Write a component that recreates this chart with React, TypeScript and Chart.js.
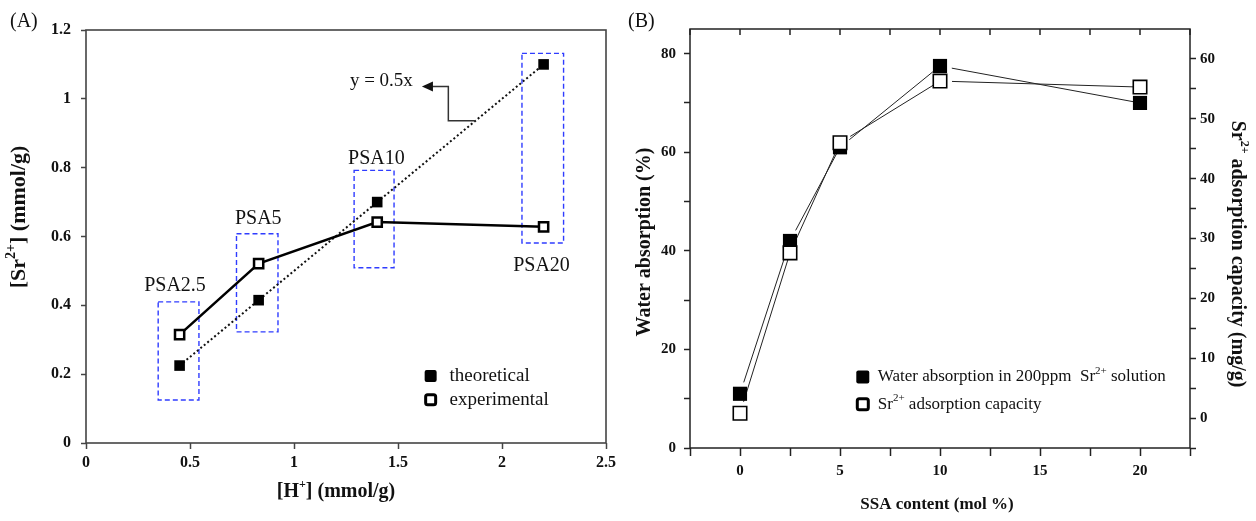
import React, { useEffect, useRef } from 'react';
import { Chart, registerables } from 'chart.js';
Chart.register(...registerables);

const FONT = '"Liberation Serif", "Times New Roman", serif';

// ---------- Panel A data ----------
const H_PLUS = [0.45, 0.83, 1.4, 2.2];
const SR_THEORETICAL = [0.225, 0.415, 0.7, 1.1];
const SR_EXPERIMENTAL = [0.315, 0.521, 0.642, 0.628];
const A_X_TICKS = [0, 0.5, 1, 1.5, 2, 2.5];
const A_Y_TICKS = [0, 0.2, 0.4, 0.6, 0.8, 1, 1.2];
const PSA_LABELS = ['PSA2.5', 'PSA5', 'PSA10', 'PSA20'];
const PSA_BOX_X0 = [0.347, 0.7235, 1.289, 2.096];
const PSA_BOX_X1 = [0.543, 0.923, 1.481, 2.296];
const PSA_BOX_Y0 = [0.125, 0.323, 0.509, 0.581];
const PSA_BOX_Y1 = [0.41, 0.608, 0.792, 1.132];
const PSA_LABEL_X = [0.428, 0.828, 1.396, 2.19];
const PSA_LABEL_Y = [0.456, 0.652, 0.825, 0.516];
const FIT_LABEL = 'y = 0.5x';
const FIT_LABEL_POS = [1.42, 1.052];
const ARROW_X = [1.875, 1.742, 1.742, 1.615];
const ARROW_Y = [0.9365, 0.9365, 1.036, 1.036];
const A_LEGEND_LABELS = ['theoretical', 'experimental'];
const A_LEGEND_X = 1.657;
const A_LEGEND_TEXT_X = 1.748;
const A_LEGEND_Y = [0.195, 0.1255];

// ---------- Panel B data ----------
const SSA_CONTENT = [0, 2.5, 5, 10, 20];
const WATER_ABSORPTION = [11, 42, 61, 77.5, 70];
const SR_ADSORPTION = [0.8, 27.6, 46, 56.3, 55.3];
const B_X_TICKS = [-2.5, 0, 2.5, 5, 7.5, 10, 12.5, 15, 17.5, 20, 22.5];
const B_X_LABELS = [0, 5, 10, 15, 20];
const B_Y_TICKS = [0, 10, 20, 30, 40, 50, 60, 70, 80];
const B_Y_LABELS = [0, 20, 40, 60, 80];
const B_Y1_TICKS = [-5, 0, 5, 10, 15, 20, 25, 30, 35, 40, 45, 50, 55, 60];
const B_Y1_LABELS = [0, 10, 20, 30, 40, 50, 60];
const B_LEGEND_X = 6.14;
const B_LEGEND_TEXT_X = 6.89;
const B_LEGEND_Y = [14.4, 8.9];

type Seg = { t: string; sup?: boolean };
const A_X_TITLE: Seg[] = [{ t: '[H' }, { t: '+', sup: true }, { t: '] (mmol/g)' }];
const A_Y_TITLE: Seg[] = [{ t: '[Sr' }, { t: '2+', sup: true }, { t: '] (mmol/g)' }];
const B_X_TITLE: Seg[] = [{ t: 'SSA content (mol %)' }];
const B_Y_TITLE: Seg[] = [{ t: 'Water absorption (%)' }];
const B_Y1_TITLE: Seg[] = [{ t: 'Sr' }, { t: '2+', sup: true }, { t: ' adsorption capacity (mg/g)' }];
const B_LEGEND: Seg[][] = [
  [{ t: 'Water absorption in 200ppm  Sr' }, { t: '2+', sup: true }, { t: ' solution' }],
  [{ t: 'Sr' }, { t: '2+', sup: true }, { t: ' adsorption capacity' }],
];

function drawRich(
  ctx: CanvasRenderingContext2D,
  segs: Seg[],
  x: number,
  y: number,
  size: number,
  weight: string,
  align: 'left' | 'center',
  rot = 0
) {
  ctx.save();
  ctx.translate(x, y);
  ctx.rotate(rot);
  const fontFor = (s: Seg) => `${weight} ${s.sup ? Math.round(size * 0.62) : size}px ${FONT}`;
  let total = 0;
  const widths = segs.map((s) => {
    ctx.font = fontFor(s);
    const w = ctx.measureText(s.t).width;
    total += w;
    return w;
  });
  let cx = align === 'center' ? -total / 2 : 0;
  ctx.textBaseline = 'middle';
  ctx.textAlign = 'left';
  ctx.fillStyle = '#111';
  segs.forEach((s, i) => {
    ctx.font = fontFor(s);
    ctx.fillText(s.t, cx, s.sup ? -size * 0.36 : 0);
    cx += widths[i];
  });
  ctx.restore();
}

function roundSquare(ctx: CanvasRenderingContext2D, cx: number, cy: number, s: number, r: number) {
  const x = cx - s / 2, y = cy - s / 2;
  ctx.beginPath();
  ctx.moveTo(x + r, y);
  ctx.lineTo(x + s - r, y);
  ctx.quadraticCurveTo(x + s, y, x + s, y + r);
  ctx.lineTo(x + s, y + s - r);
  ctx.quadraticCurveTo(x + s, y + s, x + s - r, y + s);
  ctx.lineTo(x + r, y + s);
  ctx.quadraticCurveTo(x, y + s, x, y + s - r);
  ctx.lineTo(x, y + r);
  ctx.quadraticCurveTo(x, y, x + r, y);
  ctx.closePath();
}

const tickFont = (size: number) => ({ family: FONT, size, weight: 'bold' as const });

const panelAPlugin = {
  id: 'panelA',
  beforeDatasetsDraw(chart: any) {
    const { ctx, scales } = chart;
    const xs = scales.x, ys = scales.y;
    ctx.save();
    ctx.strokeStyle = '#2f3cff';
    ctx.lineWidth = 1.4;
    ctx.setLineDash([5, 3]);
    PSA_LABELS.forEach((_, i) => {
      const x0 = xs.getPixelForValue(PSA_BOX_X0[i]);
      const x1 = xs.getPixelForValue(PSA_BOX_X1[i]);
      const y0 = ys.getPixelForValue(PSA_BOX_Y0[i]);
      const y1 = ys.getPixelForValue(PSA_BOX_Y1[i]);
      ctx.strokeRect(x0, y1, x1 - x0, y0 - y1);
    });
    ctx.restore();
  },
  afterDraw(chart: any) {
    const { ctx, scales, chartArea: a } = chart;
    const xs = scales.x, ys = scales.y;
    ctx.save();
    ctx.strokeStyle = '#444';
    ctx.lineWidth = 1.6;
    ctx.strokeRect(a.left, a.top, a.right - a.left, a.bottom - a.top);
    ctx.fillStyle = '#111';
    ctx.font = `20px ${FONT}`;
    ctx.textAlign = 'center';
    ctx.textBaseline = 'middle';
    PSA_LABELS.forEach((t, i) => {
      ctx.fillText(t, xs.getPixelForValue(PSA_LABEL_X[i]), ys.getPixelForValue(PSA_LABEL_Y[i]));
    });
    ctx.font = `19px ${FONT}`;
    ctx.fillText(FIT_LABEL, xs.getPixelForValue(FIT_LABEL_POS[0]), ys.getPixelForValue(FIT_LABEL_POS[1]));
    ctx.strokeStyle = '#333';
    ctx.lineWidth = 1.5;
    ctx.beginPath();
    ARROW_X.forEach((xv, i) => {
      const px = xs.getPixelForValue(xv) + (i === ARROW_X.length - 1 ? 9 : 0);
      const py = ys.getPixelForValue(ARROW_Y[i]);
      if (i === 0) ctx.moveTo(px, py);
      else ctx.lineTo(px, py);
    });
    ctx.stroke();
    const tipX = xs.getPixelForValue(ARROW_X[ARROW_X.length - 1]);
    const tipY = ys.getPixelForValue(ARROW_Y[ARROW_Y.length - 1]);
    ctx.fillStyle = '#111';
    ctx.beginPath();
    ctx.moveTo(tipX, tipY);
    ctx.lineTo(tipX + 11, tipY - 5);
    ctx.lineTo(tipX + 11, tipY + 5);
    ctx.closePath();
    ctx.fill();
    A_LEGEND_LABELS.forEach((t, i) => {
      const px = xs.getPixelForValue(A_LEGEND_X);
      const py = ys.getPixelForValue(A_LEGEND_Y[i]);
      if (i === 0) {
        roundSquare(ctx, px, py, 12, 2);
        ctx.fillStyle = '#000';
        ctx.fill();
      } else {
        roundSquare(ctx, px, py, 10, 2);
        ctx.fillStyle = '#fff';
        ctx.fill();
        ctx.strokeStyle = '#000';
        ctx.lineWidth = 3;
        ctx.stroke();
      }
      ctx.fillStyle = '#111';
      ctx.font = `19px ${FONT}`;
      ctx.textAlign = 'left';
      ctx.textBaseline = 'middle';
      ctx.fillText(t, xs.getPixelForValue(A_LEGEND_TEXT_X), py);
    });
    ctx.font = `20px ${FONT}`;
    ctx.textAlign = 'left';
    ctx.fillText('(A)', 10, 22);
    ctx.restore();
    drawRich(ctx, A_X_TITLE, 336, 492, 20, 'bold', 'center');
    drawRich(ctx, A_Y_TITLE, 19, 217, 22, 'bold', 'center', -Math.PI / 2);
  },
};

const panelBPlugin = {
  id: 'panelB',
  beforeDatasetsDraw(chart: any) {
    const { ctx } = chart;
    ctx.save();
    ctx.strokeStyle = '#222';
    ctx.lineWidth = 1;
    [0, 1].forEach((di) => {
      const pts = chart.getDatasetMeta(di).data;
      for (let i = 0; i < pts.length - 1; i++) {
        const p = pts[i], q = pts[i + 1];
        const dx = q.x - p.x, dy = q.y - p.y;
        const len = Math.hypot(dx, dy);
        const g = 12;
        ctx.beginPath();
        ctx.moveTo(p.x + (dx / len) * g, p.y + (dy / len) * g);
        ctx.lineTo(q.x, q.y);
        ctx.stroke();
      }
    });
    ctx.restore();
  },
  afterDraw(chart: any) {
    const { ctx, scales, chartArea: a } = chart;
    const xs = scales.x, ys = scales.y;
    ctx.save();
    ctx.strokeStyle = '#222';
    ctx.lineWidth = 1.5;
    ctx.strokeRect(a.left, a.top, a.right - a.left, a.bottom - a.top);
    B_X_TICKS.forEach((v) => {
      const px = xs.getPixelForValue(v);
      ctx.beginPath();
      ctx.moveTo(px, a.top);
      ctx.lineTo(px, a.top + 6);
      ctx.stroke();
    });
    B_LEGEND.forEach((segs, i) => {
      const px = xs.getPixelForValue(B_LEGEND_X);
      const py = ys.getPixelForValue(B_LEGEND_Y[i]);
      if (i === 0) {
        roundSquare(ctx, px, py, 13, 2);
        ctx.fillStyle = '#000';
        ctx.fill();
      } else {
        roundSquare(ctx, px, py, 11, 2);
        ctx.fillStyle = '#fff';
        ctx.fill();
        ctx.strokeStyle = '#000';
        ctx.lineWidth = 3;
        ctx.stroke();
      }
      drawRich(ctx, segs, xs.getPixelForValue(B_LEGEND_TEXT_X), py, 17, 'normal', 'left');
    });
    ctx.fillStyle = '#111';
    ctx.font = `20px ${FONT}`;
    ctx.textAlign = 'left';
    ctx.textBaseline = 'middle';
    ctx.fillText('(B)', 8, 22);
    ctx.restore();
    drawRich(ctx, B_X_TITLE, 317, 505, 17, 'bold', 'center');
    drawRich(ctx, B_Y_TITLE, 25, 242, 20, 'bold', 'center', -Math.PI / 2);
    drawRich(ctx, B_Y1_TITLE, 617, 254, 20, 'bold', 'center', Math.PI / 2);
  },
};

export default function App() {
  const refA = useRef<HTMLCanvasElement>(null);
  const refB = useRef<HTMLCanvasElement>(null);

  useEffect(() => {
    const chartA = new Chart(refA.current as HTMLCanvasElement, {
      type: 'scatter',
      data: {
        datasets: [
          {
            label: A_LEGEND_LABELS[0],
            data: H_PLUS.map((x, i) => ({ x, y: SR_THEORETICAL[i] })),
            showLine: true,
            borderColor: '#111',
            borderWidth: 2,
            borderDash: [2, 2.5],
            pointStyle: 'rect',
            pointRadius: 7.5,
            pointBackgroundColor: '#000',
            pointBorderWidth: 0,
            order: 2,
          },
          {
            label: A_LEGEND_LABELS[1],
            data: H_PLUS.map((x, i) => ({ x, y: SR_EXPERIMENTAL[i] })),
            showLine: true,
            borderColor: '#000',
            borderWidth: 2.5,
            pointStyle: 'rect',
            pointRadius: 6.5,
            pointBackgroundColor: '#fff',
            pointBorderColor: '#000',
            pointBorderWidth: 2.5,
            order: 1,
          },
        ],
      },
      options: {
        responsive: false,
        animation: false,
        devicePixelRatio: 1,
        layout: { padding: { top: 30, right: 14, left: 0, bottom: 0 } },
        plugins: { legend: { display: false }, tooltip: { enabled: false } },
        scales: {
          x: {
            type: 'linear',
            min: 0,
            max: 2.5,
            afterBuildTicks: (s: any) => {
              s.ticks = A_X_TICKS.map((v) => ({ value: v }));
            },
            ticks: {
              callback: (v: any) => String(v),
              font: tickFont(16),
              color: '#111',
              padding: 4,
              autoSkip: false,
              maxRotation: 0,
            },
            grid: { drawOnChartArea: false, drawTicks: true, tickLength: 6, tickColor: '#444', tickWidth: 1.5 },
            border: { display: false },
            afterFit: (s: any) => {
              s.height = 78;
            },
          },
          y: {
            type: 'linear',
            min: 0,
            max: 1.2,
            afterBuildTicks: (s: any) => {
              s.ticks = A_Y_TICKS.map((v) => ({ value: v }));
            },
            ticks: {
              callback: (v: any) => String(v),
              font: tickFont(16),
              color: '#111',
              padding: 10,
              autoSkip: false,
            },
            grid: { drawOnChartArea: false, drawTicks: true, tickLength: 5, tickColor: '#444', tickWidth: 1.5 },
            border: { display: false },
            afterFit: (s: any) => {
              s.width = 86;
            },
          },
        },
      } as any,
      plugins: [panelAPlugin],
    });

    const chartB = new Chart(refB.current as HTMLCanvasElement, {
      type: 'scatter',
      data: {
        datasets: [
          {
            label: 'Water absorption in 200ppm Sr2+ solution',
            data: SSA_CONTENT.map((x, i) => ({ x, y: WATER_ABSORPTION[i] })),
            yAxisID: 'y',
            showLine: false,
            pointStyle: 'rect',
            pointRadius: 10,
            pointBackgroundColor: '#000',
            pointBorderWidth: 0,
            order: 2,
          },
          {
            label: 'Sr2+ adsorption capacity',
            data: SSA_CONTENT.map((x, i) => ({ x, y: SR_ADSORPTION[i] })),
            yAxisID: 'y1',
            showLine: false,
            pointStyle: 'rect',
            pointRadius: 9.5,
            pointBackgroundColor: '#fff',
            pointBorderColor: '#000',
            pointBorderWidth: 1.6,
            order: 1,
          },
        ],
      },
      options: {
        responsive: false,
        animation: false,
        devicePixelRatio: 1,
        layout: { padding: { top: 29, right: 0, left: 0, bottom: 0 } },
        plugins: { legend: { display: false }, tooltip: { enabled: false } },
        scales: {
          x: {
            type: 'linear',
            min: -2.5,
            max: 22.5,
            afterBuildTicks: (s: any) => {
              s.ticks = B_X_TICKS.map((v) => ({ value: v }));
            },
            ticks: {
              callback: (v: any) => (B_X_LABELS.includes(v) ? String(v) : ''),
              font: tickFont(15),
              color: '#111',
              padding: 6,
              autoSkip: false,
              maxRotation: 0,
            },
            grid: { drawOnChartArea: false, drawTicks: true, tickLength: 8, tickColor: '#222', tickWidth: 1.5 },
            border: { display: false },
            afterFit: (s: any) => {
              s.height = 73;
            },
          },
          y: {
            type: 'linear',
            position: 'left',
            min: 0,
            max: 85,
            afterBuildTicks: (s: any) => {
              s.ticks = B_Y_TICKS.map((v) => ({ value: v }));
            },
            ticks: {
              callback: (v: any) => (B_Y_LABELS.includes(v) ? String(v) : ''),
              font: tickFont(15),
              color: '#111',
              padding: 8,
              autoSkip: false,
            },
            grid: { drawOnChartArea: false, drawTicks: true, tickLength: 6, tickColor: '#222', tickWidth: 1.5 },
            border: { display: false },
            afterFit: (s: any) => {
              s.width = 70;
            },
          },
          y1: {
            type: 'linear',
            position: 'right',
            min: -5,
            max: 65,
            afterBuildTicks: (s: any) => {
              s.ticks = B_Y1_TICKS.map((v) => ({ value: v }));
            },
            ticks: {
              callback: (v: any) => (B_Y1_LABELS.includes(v) ? String(v) : ''),
              font: tickFont(15),
              color: '#111',
              padding: 4,
              autoSkip: false,
            },
            grid: { drawOnChartArea: false, drawTicks: true, tickLength: 6, tickColor: '#222', tickWidth: 1.5 },
            border: { display: false },
            afterFit: (s: any) => {
              s.width = 66;
            },
          },
        },
      } as any,
      plugins: [panelBPlugin],
    });

    return () => {
      chartA.destroy();
      chartB.destroy();
    };
  }, []);

  return (
    <div style={{ position: 'fixed', left: 0, top: 0, width: 1256, height: 521, background: '#fff' }}>
      <canvas ref={refA} width={620} height={521} style={{ position: 'absolute', left: 0, top: 0 }} />
      <canvas ref={refB} width={636} height={521} style={{ position: 'absolute', left: 620, top: 0 }} />
    </div>
  );
}
